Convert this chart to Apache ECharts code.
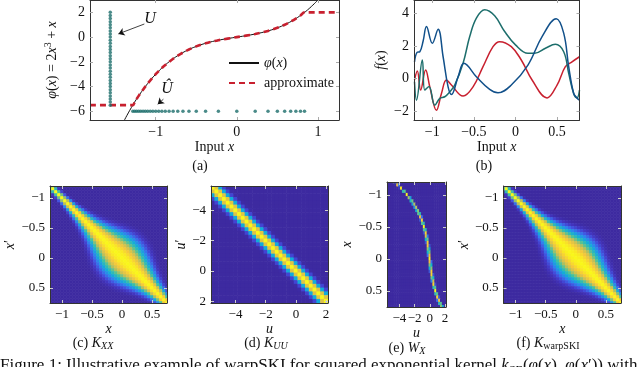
<!DOCTYPE html>
<html>
<head>
<meta charset="utf-8">
<script src="https://cdn.jsdelivr.net/npm/echarts@6.0.0/dist/echarts.min.js"></script>
<style>
  html, body { margin: 0; padding: 0; background: #fff; }
  #chart { width: 640px; height: 367px; }
</style>
</head>
<body>
<div id="chart"></div>
<script>
// ---- data ----
// (a) warping function phi(x) = 2x^3 + x, sampled
const phiCurveX = [-1.4, -1.3, -1.2, -1.1, -1.0, -0.9, -0.8, -0.7, -0.6, -0.5, -0.4, -0.3, -0.2, -0.1, 0,
  0.1, 0.2, 0.3, 0.4, 0.5, 0.6, 0.7, 0.8, 0.9, 1.0];
const phiCurveY = [-6.888, -5.694, -4.656, -3.762, -3.0, -2.358, -1.824, -1.386, -1.032, -0.75, -0.528, -0.354, -0.216, -0.102, 0,
  0.102, 0.216, 0.354, 0.528, 0.75, 1.032, 1.386, 1.824, 2.358, 3.0];
// inducing grid U (in warped space) and its pre-image U-hat
const uGrid = [-5.5, -5.25, -5.0, -4.75, -4.5, -4.25, -4.0, -3.75, -3.5, -3.25, -3.0, -2.75, -2.5, -2.25, -2.0, -1.75,
  -1.5, -1.25, -1.0, -0.75, -0.5, -0.25, 0, 0.25, 0.5, 0.75, 1.0, 1.25, 1.5, 1.75, 2.0];
const uHat = [-1.282, -1.259, -1.235, -1.210, -1.184, -1.156, -1.128, -1.099, -1.067, -1.035, -1.0, -0.963, -0.924, -0.882, -0.835, -0.785,
  -0.728, -0.664, -0.590, -0.5, -0.385, -0.227, 0, 0.227, 0.385, 0.5, 0.590, 0.664, 0.728, 0.785, 0.835];
const uColumnX = -1.56;   // where U is drawn in (a)
const uHatRowY = -6;      // where U-hat is drawn in (a)
const approxEnds = [-1.81, 1.26];

// (b) three sample functions f(x)
const blueX = [-1.214, -1.183, -1.15, -1.11, -1.07, -1.0, -0.93, -0.87, -0.81, -0.77, -0.69, -0.62, -0.47, -0.31, -0.21, -0.05, 0.15, 0.32, 0.49, 0.58, 0.64, 0.70, 0.74, 0.77];
const blueY = [1.02, 1.6, 1.64, 2.3, 3.19, 2.16, 3.02, 1.33, -0.52, -0.99, 0.1, 0.93, 0.1, -0.68, -0.89, -0.41, 0.82, 2.57, 3.66, 2.78, 0.72, -0.93, -1.2, -1.34];
const tealX = [-1.214, -1.19, -1.12, -1.09, -1.04, -0.97, -0.91, -0.85, -0.79, -0.73, -0.63, -0.55, -0.47, -0.37, -0.25, -0.13, 0, 0.15, 0.23, 0.36, 0.48, 0.58, 0.64, 0.70, 0.74, 0.77];
const tealY = [-0.21, -1.34, 1.13, -0.72, -0.5, -1.65, -1.23, -1.13, -0.83, -0.41, 0.93, 2.57, 3.7, 4.22, 3.85, 2.88, 2.06, 1.54, 1.54, 1.85, 2.1, 1.64, 0.31, -0.93, -1.2, -0.72];
const redX = [-1.214, -1.18, -1.14, -1.08, -1.03, -0.95, -0.89, -0.83, -0.77, -0.63, -0.51, -0.39, -0.27, -0.19, -0.05, 0.07, 0.2, 0.38, 0.5, 0.6, 0.68, 0.77];
const redY = [-0.1, 0.45, -0.72, 0.51, -0.52, -1.96, -0.93, -0.1, -0.41, -1.09, -0.52, 0.72, 1.95, 2.26, 1.95, 1.13, -0.1, -1.2, -0.41, 0.72, 1.02, 1.33];

// (c)-(f) input grid x and its warped values phi(x)
const xGrid = [-1.2, -1.15, -1.1, -1.05, -1.0, -0.95, -0.9, -0.85, -0.8, -0.75, -0.7, -0.65, -0.6, -0.55, -0.5, -0.45, -0.4, -0.35, -0.3, -0.25,
  -0.2, -0.15, -0.1, -0.05, 0, 0.05, 0.1, 0.15, 0.2, 0.25, 0.3, 0.35, 0.4, 0.45, 0.5, 0.55, 0.6, 0.65, 0.7, 0.75];
const phiGrid = [-4.656, -4.192, -3.762, -3.365, -3.0, -2.665, -2.358, -2.078, -1.824, -1.594, -1.386, -1.199, -1.032, -0.883, -0.75, -0.632, -0.528, -0.436, -0.354, -0.281,
  -0.216, -0.157, -0.102, -0.050, 0, 0.050, 0.102, 0.157, 0.216, 0.281, 0.354, 0.436, 0.528, 0.632, 0.75, 0.883, 1.032, 1.199, 1.386, 1.594];

// tick labels
const ticksA_x = [-1, 0, 1];
const ticksA_y = [-6, -4, -2, 0, 2];
const ticksB_x = [-1, -0.5, 0, 0.5];
const ticksB_y = [-2, 0, 2, 4];
const ticksX = [-1, -0.5, 0, 0.5];
const ticksU = [-4, -2, 0, 2];

// ---- build tables ----
const zip = (a, b) => a.map((v, i) => [v, b[i]]);
const kxxCells = [];
xGrid.forEach((xi, i) => xGrid.forEach((xj, j) => kxxCells.push([xi, xj, Math.abs(phiGrid[i] - phiGrid[j])])));
const kuuCells = [];
uGrid.forEach(ui => uGrid.forEach(uj => kuuCells.push([ui, uj, Math.abs(ui - uj)])));
const wCells = [];
xGrid.forEach((xi, i) => uGrid.forEach(uj => wCells.push([uj, xi, Math.abs(uj - phiGrid[i])])));
const approxData = [[approxEnds[0], uGrid[0]]].concat(zip(uHat, uGrid), [[approxEnds[1], uGrid[uGrid.length - 1]]]);

// ---- styling ----
const FF = 'Liberation Serif';
const richFor = sz => ({
  i: { fontStyle: 'italic', fontFamily: FF, fontSize: sz },
  sp: { fontFamily: FF, fontSize: Math.round(sz * 0.7), padding: [0, 0, Math.round(sz * 0.55), 0] },
  sb: { fontStyle: 'italic', fontFamily: FF, fontSize: Math.round(sz * 0.7), padding: [Math.round(sz * 0.5), 0, 0, 0] },
  sr: { fontFamily: FF, fontSize: Math.round(sz * 0.7), padding: [Math.round(sz * 0.5), 0, 0, 0] }
});
const fmt = v => (v < 0 ? '\u2212' + (-v) : String(v));

const grids = [
  { left: 90, top: 0, width: 249, height: 120 },
  { left: 414, top: 0, width: 165.5, height: 120 },
  { left: 50, top: 186, width: 117, height: 117 },
  { left: 211, top: 186, width: 117, height: 117 },
  { left: 387, top: 182, width: 59, height: 125 },
  { left: 503.5, top: 186, width: 117.5, height: 117 }
];

const xAxes = [], yAxes = [];
function addAxes(g, o) {
  const common = (ticks, show) => ({
    gridIndex: g, type: 'value', z: 10,
    axisLine: { show: true, onZero: false, lineStyle: { color: '#333', width: 1 } },
    axisTick: { show: true, inside: true, length: 3, customValues: ticks, lineStyle: { color: o.tickColor, width: 1 } },
    axisLabel: { show: show, customValues: ticks, formatter: fmt, fontFamily: FF, fontSize: o.fs, color: '#111', margin: 5 },
    splitLine: { show: false }
  });
  const nameStyle = sz => ({ fontFamily: FF, fontSize: sz, color: '#111', rich: richFor(sz) });
  xAxes.push(Object.assign(common(o.xt, true), {
    position: 'bottom', min: o.xr[0], max: o.xr[1],
    name: o.xName, nameLocation: 'middle', nameGap: o.xGap, nameTextStyle: nameStyle(o.nfs)
  }));
  xAxes.push(Object.assign(common(o.xt, false), { position: 'top', min: o.xr[0], max: o.xr[1] }));
  yAxes.push(Object.assign(common(o.yt, true), {
    position: 'left', min: o.yr[0], max: o.yr[1], inverse: !!o.inv,
    name: o.yName, nameLocation: 'middle', nameGap: o.yGap, nameRotate: 90, nameTextStyle: nameStyle(o.nfs)
  }));
  yAxes.push(Object.assign(common(o.yt, false), { position: 'right', min: o.yr[0], max: o.yr[1], inverse: !!o.inv }));
}

addAxes(0, { xr: [-1.81, 1.26], yr: [-6.7, 3], xt: ticksA_x, yt: ticksA_y, fs: 14, nfs: 14, tickColor: '#aaa',
  xName: 'Input {i|x}', xGap: 18, yName: '{i|\u03c6}({i|x}) = 2{i|x}{sp|3} + {i|x}', yGap: 29 });
addAxes(1, { xr: [-1.22, 0.77], yr: [-2.56, 4.82], xt: ticksB_x, yt: ticksB_y, fs: 14, nfs: 14, tickColor: '#aaa',
  xName: 'Input {i|x}', xGap: 18, yName: '{i|f}({i|x})', yGap: 26 });
addAxes(2, { xr: [-1.2, 0.75], yr: [-1.2, 0.75], xt: ticksX, yt: ticksX, fs: 13, nfs: 14, tickColor: '#ccc', inv: true,
  xName: '{i|x}', xGap: 15, yName: '{i|x}\u2032', yGap: 28 });
addAxes(3, { xr: [-5.625, 2.125], yr: [-5.625, 2.125], xt: ticksU, yt: ticksU, fs: 13, nfs: 14, tickColor: '#ccc', inv: true,
  xName: '{i|u}', xGap: 15, yName: '{i|u}\u2032', yGap: 16 });
addAxes(4, { xr: [-5.625, 2.125], yr: [-1.2, 0.75], xt: ticksU, yt: ticksX, fs: 13, nfs: 14, tickColor: '#ccc', inv: true,
  xName: '{i|u}', xGap: 15, yName: '{i|x}', yGap: 30 });
addAxes(5, { xr: [-1.2, 0.75], yr: [-1.2, 0.75], xt: ticksX, yt: ticksX, fs: 13, nfs: 14, tickColor: '#ccc', inv: true,
  xName: '{i|x}', xGap: 15, yName: '{i|x}\u2032', yGap: 30 });

function cellSeries(g, data, hw, hh) {
  return {
    type: 'custom', xAxisIndex: 2 * g, yAxisIndex: 2 * g, data: data, clip: true, silent: true,
    animation: false, progressive: 0, encode: { x: 0, y: 1 },
    renderItem: function (params, api) {
      const x = api.value(0), y = api.value(1);
      const a = api.coord([x - hw, y - hh]), b = api.coord([x + hw, y + hh]);
      return {
        type: 'rect',
        shape: { x: Math.min(a[0], b[0]) - 0.3, y: Math.min(a[1], b[1]) - 0.3,
          width: Math.abs(b[0] - a[0]) + 0.6, height: Math.abs(b[1] - a[1]) + 0.6 },
        style: { fill: api.visual('color') }
      };
    }
  };
}

const teal = '#1d6e6c', blue = '#11508a', red = '#c8202f';
const series = [
  { name: 'phi', type: 'line', xAxisIndex: 0, yAxisIndex: 0, data: zip(phiCurveX, phiCurveY), smooth: true,
    symbol: 'none', lineStyle: { color: '#111', width: 1 }, itemStyle: { color: '#111' }, z: 3 },
  { name: 'approximate', type: 'line', xAxisIndex: 0, yAxisIndex: 0, data: approxData, smooth: 0.3,
    symbol: 'none', lineStyle: { color: red, width: 2.6, type: [6, 4] }, itemStyle: { color: red }, z: 4 },
  { name: 'U', type: 'scatter', xAxisIndex: 0, yAxisIndex: 0, data: uGrid.map(u => [uColumnX, u]),
    symbolSize: 3.5, itemStyle: { color: teal }, z: 5,
    markLine: { silent: true, animation: false, symbol: ['none', 'arrow'], symbolSize: 6,
      lineStyle: { color: '#111', width: 0.8, type: 'solid' }, label: { show: false },
      data: [[{ coord: [-1.14, 1.06] }, { coord: [-1.46, 0.26] }], [{ coord: [-0.905, -5.02] }, { coord: [-0.975, -5.42] }]] } },
  { name: 'Uhat', type: 'scatter', xAxisIndex: 0, yAxisIndex: 0, data: uHat.map(x => [x, uHatRowY]),
    symbolSize: 3.5, itemStyle: { color: teal }, z: 5 },
  { type: 'line', xAxisIndex: 2, yAxisIndex: 2, data: zip(redX, redY), smooth: 0.4, symbol: 'none', lineStyle: { color: red, width: 1.5 } },
  { type: 'line', xAxisIndex: 2, yAxisIndex: 2, data: zip(tealX, tealY), smooth: 0.4, symbol: 'none', lineStyle: { color: teal, width: 1.5 } },
  { type: 'line', xAxisIndex: 2, yAxisIndex: 2, data: zip(blueX, blueY), smooth: 0.4, symbol: 'none', lineStyle: { color: blue, width: 1.5 } },
  cellSeries(2, kxxCells, 0.025, 0.025),
  cellSeries(3, kuuCells, 0.125, 0.125),
  cellSeries(4, wCells, 0.125, 0.025),
  cellSeries(5, kxxCells, 0.025, 0.025)
];

const kernelColors = ['#f9f71a', '#f9e922', '#f6c83a', '#c5bf54', '#42c19f', '#13abd9', '#3080ee', '#4252e0', '#4237c3', '#3f2fb0', '#3d2ba5', '#3d2aa0'];
const weightColors = ['#f9f71a', '#f4bb40', '#7dc57a', '#0db5cf', '#3a6df0', '#3d2aa0'];

function label(x, y, text, sz, extra) {
  return Object.assign({ type: 'text', x: x, y: y, silent: true,
    style: { text: text, fontFamily: FF, fontSize: sz, fill: '#111', align: 'center', verticalAlign: 'middle',
      textAlign: 'center', textVerticalAlign: 'middle', rich: richFor(sz) } }, extra || {});
}

const chart = echarts.init(document.getElementById('chart'), null, { renderer: 'canvas' });
chart.setOption({
  animation: false,
  backgroundColor: '#fff',
  textStyle: { fontFamily: FF },
  grid: grids,
  xAxis: xAxes,
  yAxis: yAxes,
  legend: {
    data: ['phi', 'approximate'], orient: 'vertical', left: 223, top: 51, itemWidth: 30, itemHeight: 12, itemGap: 6,
    itemStyle: { opacity: 0 },
    textStyle: { fontFamily: FF, fontSize: 14, color: '#111', rich: richFor(14) },
    formatter: n => (n === 'phi' ? '{i|\u03c6}({i|x})' : 'approximate')
  },
  visualMap: [
    { type: 'continuous', show: false, seriesIndex: [7, 8, 10], dimension: 2, min: 0, max: 1.1,
      inRange: { color: kernelColors }, outOfRange: { color: '#3d2aa0' } },
    { type: 'continuous', show: false, seriesIndex: [9], dimension: 2, min: 0, max: 0.25,
      inRange: { color: weightColors }, outOfRange: { color: '#3d2aa0' } }
  ],
  graphic: [
    label(150, 19, '{i|U}', 16),
    label(167, 89, '{i|\u00db}', 16),
    label(200, 166, '(a)', 14),
    label(484, 166, '(b)', 14),
    label(93, 343, '(c) {i|K}{sb|XX}', 14),
    label(266, 343, '(d) {i|K}{sb|UU}', 14),
    label(407, 348, '(e) {i|W}{sb|X}', 14),
    label(548, 343, '(f) {i|K}{sr|warpSKI}', 14),
    { type: 'text', x: 0, y: 366, silent: true,
      style: { text: 'Figure 1: Illustrative example of warpSKI for squared exponential kernel {i|k}{sr|SE}({i|\u03c6}({i|x}), {i|\u03c6}({i|x}\u2032)) with',
        fontFamily: FF, fontSize: 17, fill: '#111', align: 'left', verticalAlign: 'middle', textAlign: 'left', textVerticalAlign: 'middle', rich: richFor(17) } }
  ],
  series: series
});
</script>
</body>
</html>
